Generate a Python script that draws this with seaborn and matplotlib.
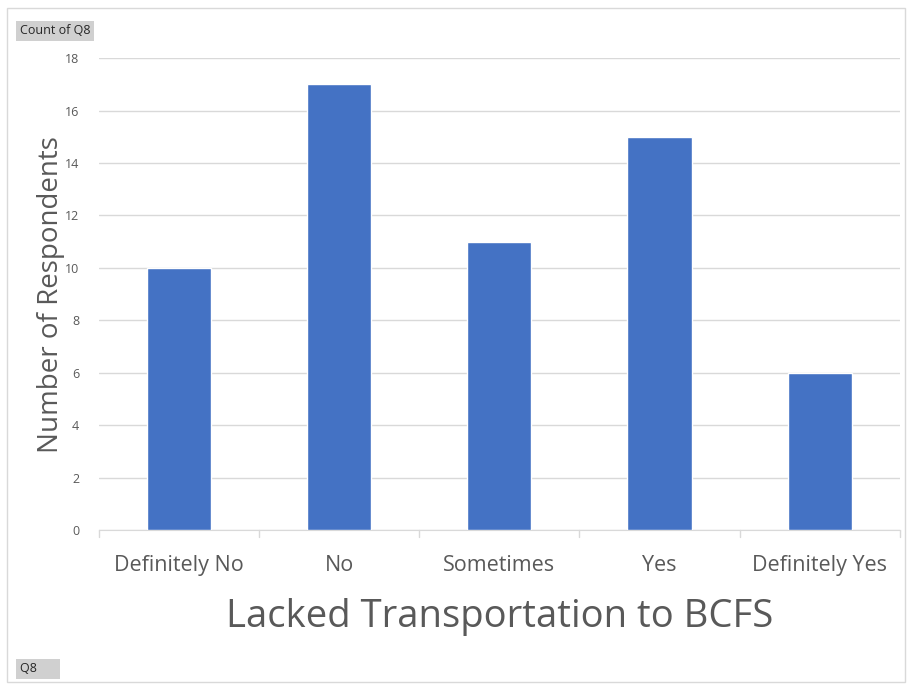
import matplotlib
matplotlib.use("Agg")
import matplotlib.pyplot as plt
import seaborn as sns
import pandas as pd
from matplotlib.patches import Rectangle

# Survey answers for Q8 and how many respondents picked each
answers = ["Definitely No", "No", "Sometimes", "Yes", "Definitely Yes"]
counts = [10, 17, 11, 15, 6]
y_ticks = [0, 2, 4, 6, 8, 10, 12, 14, 16, 18]

df = pd.DataFrame({"Q8": answers, "Count": counts})

sns.set_style("white")
plt.rcParams["font.family"] = ["Open Sans", "DejaVu Sans"]

fig = plt.figure(figsize=(9.07, 6.84), dpi=100)
ax = fig.add_axes([0.109, 0.225, 0.883, 0.69])

sns.barplot(data=df, x="Q8", y="Count", color="#4472C4", width=0.4,
            saturation=1, ax=ax, zorder=3)

ax.set_xlim(-0.5, len(answers) - 0.5)
ax.set_ylim(0, 18)
ax.set_yticks(y_ticks)
ax.yaxis.grid(True, color="#d9d9d9", linewidth=1, zorder=0)
ax.tick_params(axis="y", labelsize=9, colors="#595959", length=0, pad=14)
ax.tick_params(axis="x", labelsize=15.5, colors="#595959", length=0, pad=18)

# category separators on the x axis like Excel
for i in range(len(answers) + 1):
    ax.plot([i - 0.5, i - 0.5], [0, -0.25], color="#d9d9d9", lw=1,
            clip_on=False, transform=ax.transData)

for side in ["top", "right", "left"]:
    ax.spines[side].set_visible(False)
ax.spines["bottom"].set_color("#d9d9d9")

ax.set_xlabel("Lacked Transportation to BCFS", fontsize=27.5, color="#595959", labelpad=16)
ax.set_ylabel("Number of Respondents", fontsize=20, color="#595959", labelpad=0)

# chart border
fig.patches.append(Rectangle((7 / 907, 2 / 684), 898 / 907, 674 / 684,
                             transform=fig.transFigure, fill=False,
                             edgecolor="#d9d9d9", lw=1))

# pivot field buttons
fig.text(20 / 907, 1 - 31 / 684, "Count of Q8", fontsize=9, va="center", ha="left",
         bbox=dict(boxstyle="square,pad=0.3", facecolor="#d0d0d0", edgecolor="none"))
fig.text(20 / 907, 1 - 669 / 684, "Q8      ", fontsize=9, va="center", ha="left",
         bbox=dict(boxstyle="square,pad=0.3", facecolor="#d0d0d0", edgecolor="none"))

fig.savefig("out.png", dpi=100)
